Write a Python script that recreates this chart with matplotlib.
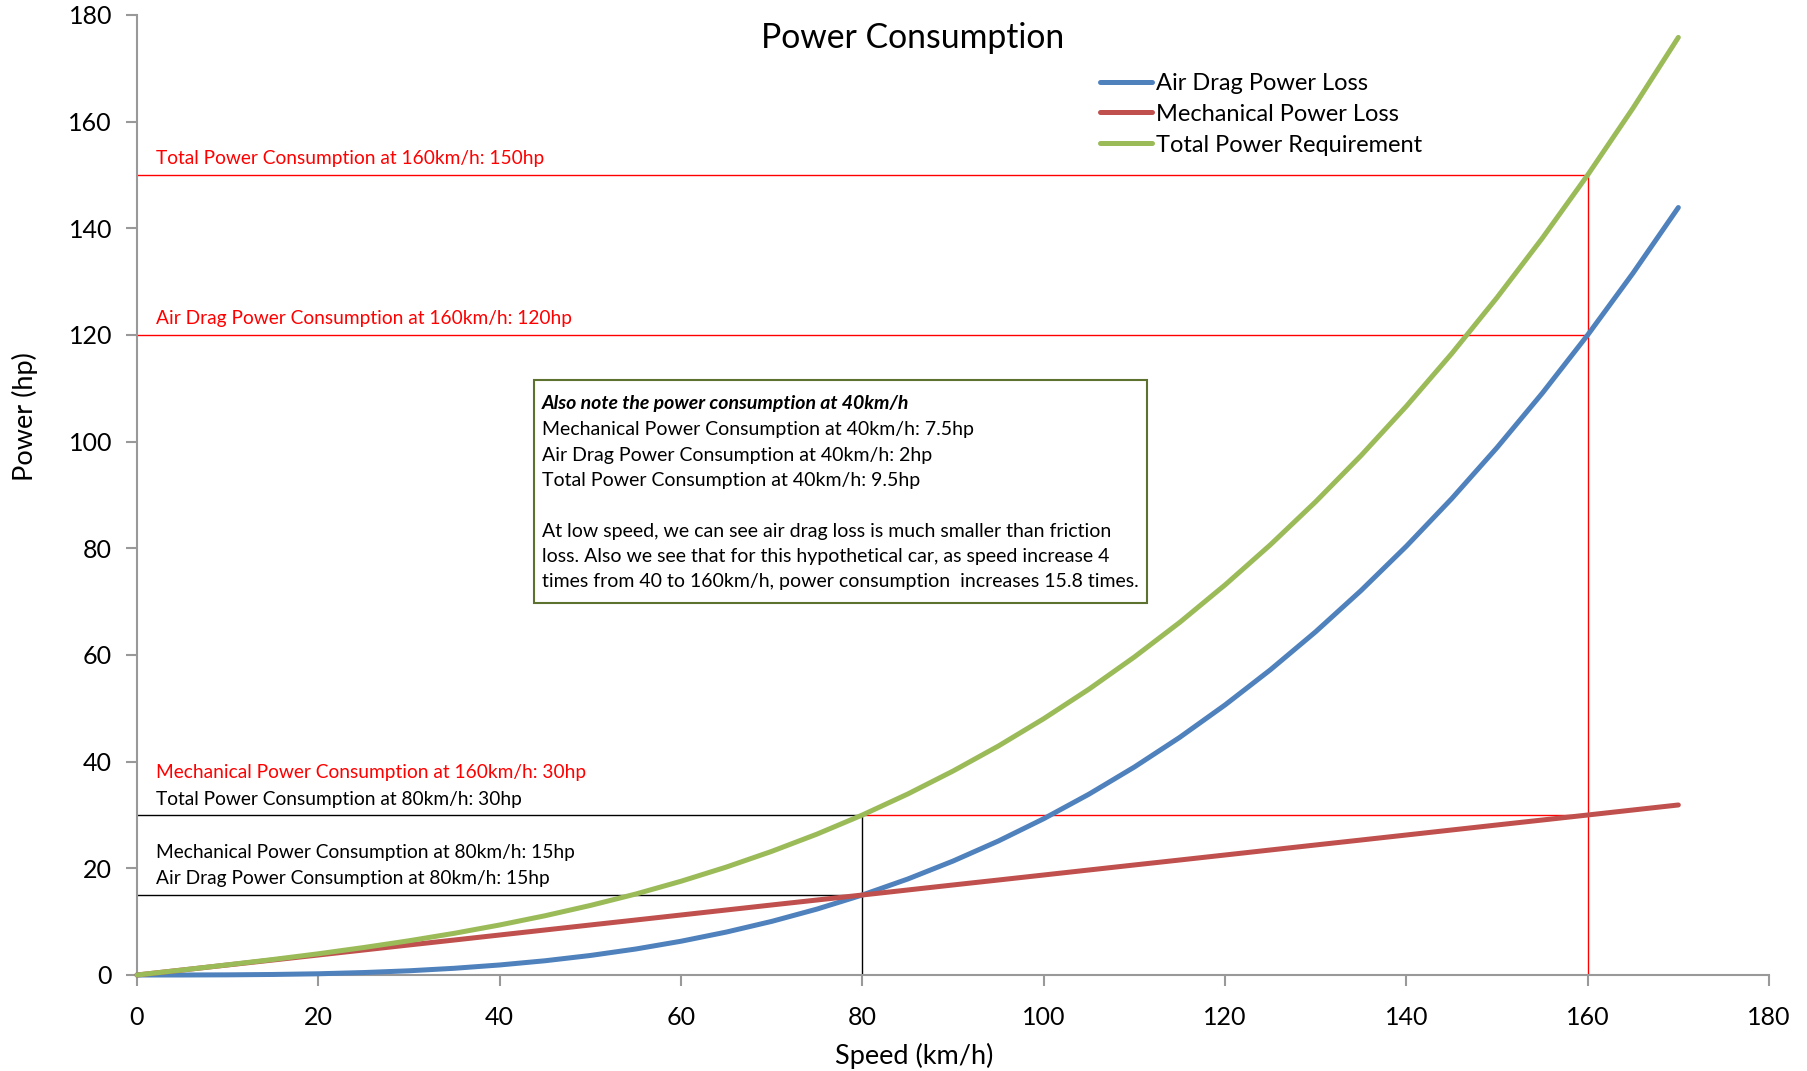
import matplotlib
matplotlib.use("Agg")
import matplotlib.pyplot as plt
from matplotlib.patches import Rectangle

plt.rcParams['font.family'] = ['Lato', 'DejaVu Sans']

# ---- Data ----
speed = [0, 5, 10, 15, 20, 25, 30, 35, 40, 45, 50, 55, 60, 65, 70, 75, 80, 85,
         90, 95, 100, 105, 110, 115, 120, 125, 130, 135, 140, 145, 150, 155, 160, 165, 170]
air_drag = [0.0, 0.0, 0.03, 0.1, 0.23, 0.46, 0.79, 1.26, 1.88, 2.67, 3.66, 4.87, 6.33, 8.05,
            10.05, 12.36, 15.0, 17.99, 21.36, 25.12, 29.3, 33.91, 38.99, 44.55, 50.63, 57.22,
            64.36, 72.08, 80.39, 89.31, 98.88, 109.1, 120.0, 131.6, 143.9]
mechanical = [0.0, 0.94, 1.88, 2.81, 3.75, 4.69, 5.63, 6.56, 7.5, 8.44, 9.38, 10.31, 11.25,
              12.19, 13.13, 14.06, 15.0, 15.94, 16.88, 17.81, 18.75, 19.69, 20.63, 21.56,
              22.5, 23.44, 24.38, 25.31, 26.25, 27.19, 28.13, 29.06, 30.0, 30.94, 31.88]
total = [0.0, 0.94, 1.91, 2.91, 3.98, 5.15, 6.42, 7.82, 9.38, 11.11, 13.04, 15.18, 17.58,
         20.24, 23.18, 26.42, 30.0, 33.93, 38.24, 42.93, 48.05, 53.6, 59.62, 66.11, 73.13,
         80.66, 88.74, 97.39, 106.64, 116.5, 127.01, 138.16, 150.0, 162.54, 175.8]

series_names = ['Air Drag Power Loss', 'Mechanical Power Loss', 'Total Power Requirement']
series_colors = ['#4F81BD', '#C0504D', '#9BBB59']

# marker points: (speed, power)
total_160 = (160, 150)
air_160 = (160, 120)
mech_160 = (160, 30)
total_80 = (80, 30)
mech_80 = (80, 15)

x_ticks = list(range(0, 181, 20))
y_ticks = list(range(0, 181, 20))

box_title = 'Also note the power consumption at 40km/h'
box_lines = ['Mechanical Power Consumption at 40km/h: 7.5hp',
             'Air Drag Power Consumption at 40km/h: 2hp',
             'Total Power Consumption at 40km/h: 9.5hp',
             '',
             'At low speed, we can see air drag loss is much smaller than friction',
             'loss. Also we see that for this hypothetical car, as speed increase 4',
             'times from 40 to 160km/h, power consumption  increases 15.8 times.']

# ---- Figure ----
fig = plt.figure(figsize=(18.08, 10.71), dpi=100)
ax = fig.add_axes([137 / 1808, 1 - 975 / 1071, 1632 / 1808, 960 / 1071])

for vals, name, c in zip([air_drag, mechanical, total], series_names, series_colors):
    ax.plot(speed, vals, color=c, lw=3.6, label=name, solid_capstyle='round', clip_on=False, zorder=3)

# ---- Reference lines ----
red = '#FF0000'
ax.plot([0, total_160[0]], [total_160[1]] * 2, color=red, lw=1, zorder=2)
ax.plot([air_160[0]] * 2, [0, total_160[1]], color=red, lw=1, zorder=2)
ax.plot([0, air_160[0]], [air_160[1]] * 2, color=red, lw=1, zorder=2)
ax.plot([total_80[0], mech_160[0]], [mech_160[1]] * 2, color=red, lw=1, zorder=2)
ax.plot([0, total_80[0]], [total_80[1]] * 2, color='black', lw=1, zorder=2)
ax.plot([0, mech_80[0]], [mech_80[1]] * 2, color='black', lw=1, zorder=2)
ax.plot([total_80[0]] * 2, [0, total_80[1]], color='black', lw=1, zorder=2)

fs = 13.8
ax.text(2.1, total_160[1] + 2, f'Total Power Consumption at 160km/h: {total_160[1]}hp', color=red, fontsize=fs)
ax.text(2.1, air_160[1] + 2, f'Air Drag Power Consumption at 160km/h: {air_160[1]}hp', color=red, fontsize=fs)
ax.text(2.1, 36.9, f'Mechanical Power Consumption at 160km/h: {mech_160[1]}hp', color=red, fontsize=fs)
ax.text(2.1, 31.9, f'Total Power Consumption at 80km/h: {total_80[1]}hp', color='black', fontsize=fs)
ax.text(2.1, 21.9, f'Mechanical Power Consumption at 80km/h: {mech_80[1]}hp', color='black', fontsize=fs)
ax.text(2.1, 17.1, f'Air Drag Power Consumption at 80km/h: {mech_80[1]}hp', color='black', fontsize=fs)

# ---- Note box ----
ax.add_patch(Rectangle((43.8, 69.75), 67.6, 41.85, fill=True, facecolor='white',
                       edgecolor='#5E7230', lw=1.5, zorder=4))
ax.text(44.7, 107.2, box_title, fontsize=14, fontweight='bold', fontstyle='italic',
        va='center', zorder=5)
for i, line in enumerate(box_lines):
    ax.text(44.7, 102.2 - i * 4.75, line, fontsize=14, va='center', zorder=5)

# ---- Axes styling ----
ax.set_xlim(0, 180)
ax.set_ylim(0, 180)
ax.set_xticks(x_ticks)
ax.set_yticks(y_ticks)
for s in ['top', 'right']:
    ax.spines[s].set_visible(False)
for s in ['left', 'bottom']:
    ax.spines[s].set_color('#999999')
    ax.spines[s].set_linewidth(1.5)
ax.tick_params(axis='both', direction='out', length=8, width=1.5, color='#999999',
               labelsize=18)
ax.tick_params(axis='y', pad=10)
ax.tick_params(axis='x', pad=14)

fig.text(914 / 1808, 1 - 1056 / 1071, 'Speed (km/h)', fontsize=19.5, ha='center', va='center')
fig.text(25 / 1808, 1 - 417 / 1071, 'Power (hp)', fontsize=19.5, ha='center', va='center',
         rotation=90)
fig.text(913 / 1808, 1 - 38 / 1071, 'Power Consumption', fontsize=24.3, ha='center', va='center')

ax.legend(loc='upper left', bbox_to_anchor=(1088 / 1808, 1 - 61 / 1071),
          bbox_transform=fig.transFigure, frameon=False, fontsize=17,
          handlelength=2.2, handletextpad=0.2, labelspacing=0.42, borderpad=0)

plt.savefig('out.png', dpi=100)
